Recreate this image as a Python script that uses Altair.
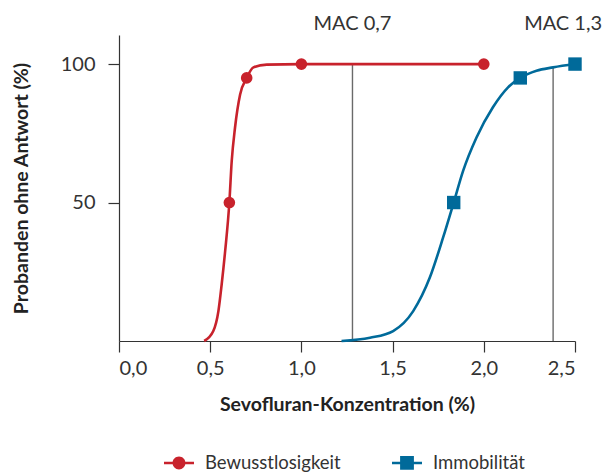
import altair as alt
import pandas as pd

# --- data ---
series_names = ["Bewusstlosigkeit", "Immobilität"]
series_colors = ["#c8222c", "#006a9a"]

# smooth response curves
red_curve_x = [0.467, 0.517, 0.545, 0.563, 0.582, 0.605, 0.618, 0.636, 0.664, 0.70, 0.737, 0.81, 1.0, 2.0]
red_curve_y = [0, 3.6, 10.8, 20.5, 32.5, 50, 65, 77, 89, 95, 98.8, 99.8, 100, 100]
blue_curve_x = [1.22, 1.376, 1.503, 1.613, 1.704, 1.777, 1.835, 1.887, 1.96, 2.05, 2.133, 2.2, 2.289, 2.38, 2.5]
blue_curve_y = [0, 1.2, 3.6, 10.8, 22.9, 37.4, 50, 61.5, 73.5, 84.4, 91.6, 95, 97.6, 98.8, 100]

# measured points (markers)
red_pts_x = [0.605, 0.70, 1.0, 2.0]
red_pts_y = [50, 95, 100, 100]
blue_pts_x = [1.835, 2.2, 2.5]
blue_pts_y = [50, 95, 100]

# MAC reference lines
mac_x = [1.28, 2.38]
mac_top = [100, 99]
mac_labels = ["MAC 0,7", "MAC 1,3"]

x_ticks = [0, 0.5, 1.0, 1.5, 2.0, 2.5]
y_ticks = [50, 100]

# --- tables ---
curves = pd.DataFrame(
    {"x": red_curve_x + blue_curve_x,
     "y": red_curve_y + blue_curve_y,
     "s": [series_names[0]] * len(red_curve_x) + [series_names[1]] * len(blue_curve_x)}
)
pts = pd.DataFrame(
    {"x": red_pts_x + blue_pts_x,
     "y": red_pts_y + blue_pts_y,
     "s": [series_names[0]] * len(red_pts_x) + [series_names[1]] * len(blue_pts_x)}
)
mac = pd.DataFrame({"x": mac_x, "top": mac_top, "label": mac_labels, "i": [0, 1]})

FONT = "Lato"
xscale = alt.Scale(domain=[0, 2.5], nice=False, zero=False)
yscale = alt.Scale(domain=[0, 110.5], nice=False)
cscale = alt.Scale(domain=series_names, range=series_colors)

# legend symbols: line with marker in the middle (custom SVG paths)
circle_sym = ("M-1,-0.085H1V0.085H-1Z "
              "M-0.43,0A0.43,0.43 0 1,1 0.43,0A0.43,0.43 0 1,1 -0.43,0Z")
square_sym = "M-1,-0.085H1V0.085H-1Z M-0.46,-0.46H0.46V0.46H-0.46Z"

x_enc = alt.X(
    "x:Q", scale=xscale,
    axis=alt.Axis(values=x_ticks, title="Sevofluran-Konzentration (%)",
                  labelExpr="replace(format(datum.value, '.1f'), '.', ',')",
                  tickSize=11, labelPadding=6, titlePadding=17),
)
y_enc = alt.Y(
    "y:Q", scale=yscale,
    axis=alt.Axis(values=y_ticks, title="Probanden ohne Antwort (%)",
                  tickSize=11, labelPadding=13, titlePadding=29),
)

lines = alt.Chart(curves).mark_line(strokeWidth=2.6, interpolate="monotone").encode(
    x=x_enc, y=y_enc,
    color=alt.Color("s:N", scale=cscale, legend=None),
    detail="s:N",
)

circles = alt.Chart(pts).transform_filter(
    alt.datum.s == series_names[0]
).mark_point(shape="circle", filled=True, size=135, opacity=1).encode(
    x="x:Q", y="y:Q", color=alt.Color("s:N", scale=cscale, legend=None)
)
squares = alt.Chart(pts).transform_filter(
    alt.datum.s == series_names[1]
).mark_point(shape="square", filled=True, size=180, opacity=1).encode(
    x="x:Q", y="y:Q", color=alt.Color("s:N", scale=cscale, legend=None)
)

legend_layer = alt.Chart(pts).transform_filter("false").mark_point(
    filled=True, opacity=1
).encode(
    x="x:Q", y="y:Q",
    color=alt.Color("s:N", scale=cscale, title=None,
                    legend=alt.Legend(orient="none", legendX=45, legendY=412.7,
                                      direction="horizontal", columns=2,
                                      symbolSize=900, symbolStrokeWidth=0,
                                      labelFont=FONT, labelFontSize=18.5, labelColor="#333",
                                      labelOffset=11, columnPadding=51, padding=0,
                                      symbolOpacity=1)),
    shape=alt.Shape("s:N", scale=alt.Scale(domain=series_names, range=[circle_sym, square_sym]),
                    title=None),
)

rules = alt.Chart(mac).mark_rule(color="#6a6a6a", strokeWidth=1.4).encode(
    x="x:Q", y=alt.Y("top:Q"), y2=alt.datum(0)
)

mac_text1 = alt.Chart(mac).transform_filter(alt.datum.i == 0).mark_text(
    font=FONT, fontSize=20, color="#333", baseline="middle", align="center"
).encode(x="x:Q", y=alt.value(-11), text="label:N")
mac_text2 = alt.Chart(mac).transform_filter(alt.datum.i == 1).mark_text(
    font=FONT, fontSize=20, color="#333", baseline="middle", align="center", dx=10
).encode(x="x:Q", y=alt.value(-11), text="label:N")

chart = alt.layer(
    rules, lines, circles, squares, legend_layer, mac_text1, mac_text2
).resolve_scale(
    color="independent", shape="independent"
).properties(
    width=456, height=306,
    autosize=alt.AutoSizeParams(type="none"),
    padding={"left": 119, "top": 35, "right": 27, "bottom": 132},
).configure_view(stroke=None).configure_axis(
    grid=False, domainColor="#333", tickColor="#333", domainWidth=1.2, tickWidth=1.2,
    labelFont=FONT, labelFontSize=20, labelColor="#333",
    titleFont=FONT, titleFontSize=19.5, titleFontWeight="bold", titleColor="#222",
)

chart.save("out.html", embed_options={"renderer": "svg", "actions": False})
